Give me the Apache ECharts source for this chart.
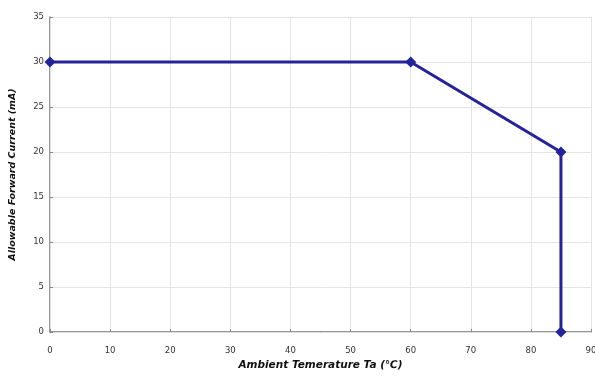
<!DOCTYPE html>
<html><head><meta charset="utf-8">
<script src="https://cdn.jsdelivr.net/npm/echarts@6/dist/echarts.min.js"></script>
<style>html,body{margin:0;padding:0;background:#fff}#c{width:595px;height:378px}</style>
</head><body><div id="c"></div>
<script>
var temps = [0, 60, 85, 85];
var currents = [30, 30, 20, 0];
var xName = 'Ambient Temerature Ta (\u2103)';
var yName = 'Allowable Forward Current (mA)';

var chart = echarts.init(document.getElementById('c'));
var lbl = {fontFamily: 'DejaVu Sans', fontSize: 8.5, color: '#333'};
var frameX = {type: 'value', position: 'top', min: 0, max: 90, axisLine: {show: true, lineStyle: {color: '#ddd'}}, axisTick: {show: false}, axisLabel: {show: false}, splitLine: {show: false}};
var frameY = {type: 'value', position: 'right', min: 0, max: 35, axisLine: {show: true, lineStyle: {color: '#ddd'}}, axisTick: {show: false}, axisLabel: {show: false}, splitLine: {show: false}};
chart.setOption({
  animation: false,
  grid: {left: 50, right: 4, top: 17, bottom: 46, outerBoundsMode: 'none', containLabel: false},
  xAxis: [{
    type: 'value', min: 0, max: 90, interval: 10,
    name: xName, nameLocation: 'middle', nameGap: 26,
    nameTextStyle: {fontFamily: 'DejaVu Sans', fontSize: 10.5, fontWeight: 'bold', fontStyle: 'italic', color: '#111'},
    axisLine: {lineStyle: {color: '#777', width: 1.5}},
    axisTick: {inside: true, length: 3, lineStyle: {color: '#888'}},
    axisLabel: Object.assign({margin: 14}, lbl),
    splitLine: {show: true, lineStyle: {color: '#e4e4e4', width: 1}}
  }, frameX],
  yAxis: [{
    type: 'value', min: 0, max: 35, interval: 5,
    name: yName, nameLocation: 'middle', nameGap: 32,
    nameTextStyle: {fontFamily: 'DejaVu Sans', fontSize: 9.5, fontWeight: 'bold', fontStyle: 'italic', color: '#111'},
    axisLine: {show: true, lineStyle: {color: '#777', width: 1.5}},
    axisTick: {show: true, inside: true, length: 3, lineStyle: {color: '#888'}},
    axisLabel: Object.assign({margin: 6}, lbl),
    splitLine: {show: true, lineStyle: {color: '#e4e4e4', width: 1}}
  }, frameY],
  series: [{
    type: 'line',
    data: temps.map(function (t, i) { return [t, currents[i]]; }),
    symbol: 'diamond', symbolSize: 11,
    lineStyle: {color: '#23239a', width: 3},
    itemStyle: {color: '#23239a'}
  }]
});
</script></body></html>
